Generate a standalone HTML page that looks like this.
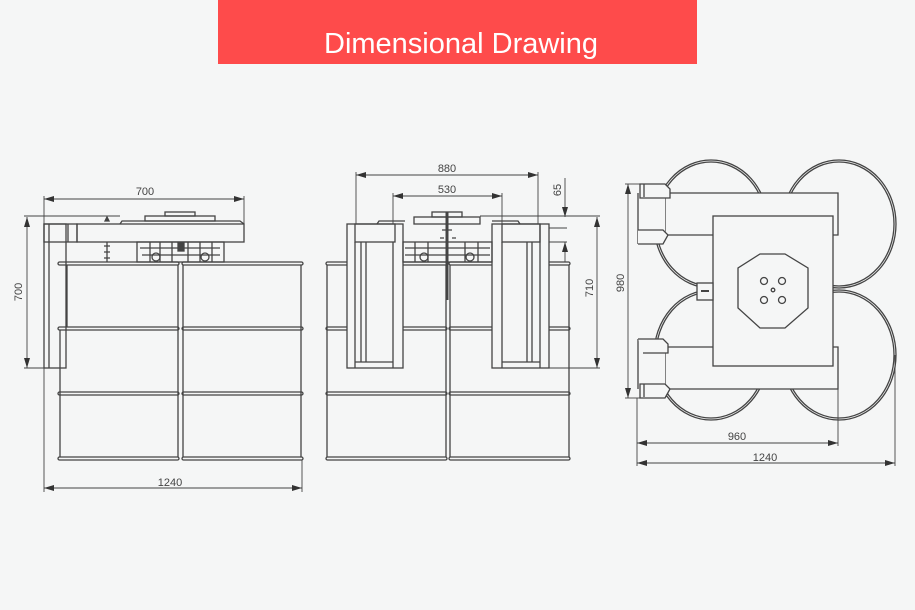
<!DOCTYPE html>
<html><head><meta charset="utf-8"><style>
html,body{margin:0;padding:0;background:#f5f6f6;}
svg{display:block;}
text{font-family:"Liberation Sans",sans-serif;fill:#444;}
</style></head><body>
<svg width="915" height="610" viewBox="0 0 915 610" xmlns="http://www.w3.org/2000/svg">
<defs>
<marker id="a" viewBox="0 0 10 6" refX="10" refY="3" markerWidth="10" markerHeight="6" orient="auto-start-reverse" markerUnits="userSpaceOnUse"><path d="M0,0 L10,3 L0,6z" fill="#333"/></marker>
</defs>
<rect width="915" height="610" fill="#f5f6f6"/>
<rect x="218" y="0" width="479" height="64" fill="#fe4b4b"/>
<text x="461" y="53" font-size="29" text-anchor="middle" style="fill:#fff">Dimensional Drawing</text>

<g fill="none" stroke="#444" stroke-width="1.3">
<!-- LEFT VIEW barrels -->
<g>
<rect x="58" y="262" width="121" height="3" rx="1.5"/><rect x="182" y="262" width="121" height="3" rx="1.5"/>
<rect x="58" y="327" width="121" height="3" rx="1.5"/><rect x="182" y="327" width="121" height="3" rx="1.5"/>
<rect x="58" y="392" width="121" height="3" rx="1.5"/><rect x="182" y="392" width="121" height="3" rx="1.5"/>
<rect x="58" y="457" width="121" height="3" rx="1.5"/><rect x="182" y="457" width="121" height="3" rx="1.5"/>
<line x1="67" y1="265" x2="67" y2="327"/><line x1="60" y1="330" x2="60" y2="457"/>
<line x1="178" y1="265" x2="178" y2="457"/><line x1="183" y1="265" x2="183" y2="457"/>
<line x1="301" y1="265" x2="301" y2="457"/>
</g>
<!-- post -->
<rect x="44" y="224" width="22" height="144"/>
<line x1="49" y1="224" x2="49" y2="368"/>
<rect x="44" y="224" width="33" height="18"/>
<line x1="68" y1="224" x2="68" y2="242"/>
<rect x="77" y="224" width="167" height="18"/>
<path d="M120,224 L122,221 L240,221 L244,224"/>
<rect x="145" y="216" width="70" height="5"/><rect x="165" y="212" width="30" height="4"/>
<path d="M105,221 l2,-4 l2,4z" fill="#444"/>
<!-- mech -->
<rect x="137" y="242" width="87" height="20"/>
<path d="M140,248 h80 M142,255 h78 M150,242 v20 M160,242 v20 M172,242 v20 M188,242 v20 M200,242 v20 M212,242 v20"/>
<circle cx="156" cy="257" r="4"/><circle cx="205" cy="257" r="4"/>
<rect x="178" y="243" width="6" height="8" fill="#444"/>
<path d="M107,242 v20 M104,246 h6 M104,252 h6 M104,258 h6"/>
<!-- dims -->
<line x1="44" y1="199" x2="244" y2="199" marker-start="url(#a)" marker-end="url(#a)" stroke-width="0.9"/>
<line x1="44" y1="196" x2="44" y2="224" stroke-width="0.9"/><line x1="244" y1="196" x2="244" y2="224" stroke-width="0.9"/>
<line x1="27" y1="217" x2="27" y2="368" marker-start="url(#a)" marker-end="url(#a)" stroke-width="0.9"/>
<line x1="24" y1="216" x2="120" y2="216" stroke-width="0.9"/><line x1="24" y1="368" x2="44" y2="368" stroke-width="0.9"/>
<line x1="44" y1="488" x2="302" y2="488" marker-start="url(#a)" marker-end="url(#a)" stroke-width="0.9"/>
<line x1="44" y1="368" x2="44" y2="492" stroke-width="0.9"/><line x1="302" y1="460" x2="302" y2="492" stroke-width="0.9"/>

<!-- MIDDLE VIEW barrels -->
<rect x="326" y="262" width="121" height="3" rx="1.5"/><rect x="449" y="262" width="121" height="3" rx="1.5"/>
<rect x="326" y="327" width="121" height="3" rx="1.5"/><rect x="449" y="327" width="121" height="3" rx="1.5"/>
<rect x="326" y="392" width="121" height="3" rx="1.5"/><rect x="449" y="392" width="121" height="3" rx="1.5"/>
<rect x="326" y="457" width="121" height="3" rx="1.5"/><rect x="449" y="457" width="121" height="3" rx="1.5"/>
<line x1="327" y1="265" x2="327" y2="457"/><line x1="446" y1="265" x2="446" y2="457"/>
<line x1="450" y1="265" x2="450" y2="457"/><line x1="569" y1="265" x2="569" y2="457"/>
<!-- frames -->
<rect x="347" y="224" width="56" height="144" fill="#f5f6f6"/>
<rect x="355" y="224" width="40" height="18"/>
<line x1="355" y1="242" x2="355" y2="368"/><line x1="361" y1="242" x2="361" y2="362"/><line x1="366" y1="242" x2="366" y2="362"/>
<line x1="393" y1="242" x2="393" y2="368"/><line x1="355" y1="362" x2="393" y2="362"/>
<rect x="492" y="224" width="57" height="144" fill="#f5f6f6"/>
<rect x="502" y="224" width="38" height="18"/>
<line x1="502" y1="242" x2="502" y2="368"/><line x1="527" y1="242" x2="527" y2="362"/><line x1="532" y1="242" x2="532" y2="362"/>
<line x1="540" y1="224" x2="540" y2="368"/><line x1="502" y1="362" x2="540" y2="362"/>
<path d="M377,224 l2,-3 h26 M492,221 h26 l2,3"/>
<rect x="414" y="217" width="66" height="7"/><rect x="432" y="212" width="30" height="5"/>
<rect x="403" y="242" width="89" height="20"/>
<path d="M405,248 h85 M405,255 h85 M415,242 v20 M428,242 v20 M465,242 v20 M478,242 v20"/>
<circle cx="424" cy="257" r="4"/><circle cx="470" cy="257" r="4"/>
<path d="M447,212 V300" stroke-width="3"/>
<path d="M442,230 h10 M440,238 h4 M452,238 h4"/>
<!-- dims -->
<line x1="356" y1="175" x2="538" y2="175" marker-start="url(#a)" marker-end="url(#a)" stroke-width="0.9"/>
<line x1="356" y1="172" x2="356" y2="224" stroke-width="0.9"/><line x1="538" y1="172" x2="538" y2="224" stroke-width="0.9"/>
<line x1="393" y1="196" x2="502" y2="196" marker-start="url(#a)" marker-end="url(#a)" stroke-width="0.9"/>
<line x1="393" y1="193" x2="393" y2="224" stroke-width="0.9"/><line x1="502" y1="193" x2="502" y2="224" stroke-width="0.9"/>
<line x1="565" y1="178" x2="565" y2="217" marker-end="url(#a)" stroke-width="0.9"/>
<line x1="565" y1="262" x2="565" y2="242" marker-end="url(#a)" stroke-width="0.9"/>
<line x1="480" y1="216" x2="600" y2="216" stroke-width="0.9"/><line x1="549" y1="228" x2="567" y2="228" stroke-width="0.9"/><line x1="549" y1="242" x2="567" y2="242" stroke-width="0.9"/>
<line x1="597" y1="217" x2="597" y2="368" marker-start="url(#a)" marker-end="url(#a)" stroke-width="0.9"/>
<line x1="549" y1="368" x2="600" y2="368" stroke-width="0.9"/>

<!-- RIGHT VIEW -->
<ellipse cx="711" cy="224" rx="57" ry="64"/><ellipse cx="711" cy="224" rx="55" ry="62"/>
<ellipse cx="839" cy="224" rx="57" ry="64"/><ellipse cx="839" cy="224" rx="55" ry="62"/>
<ellipse cx="711" cy="355" rx="57" ry="65"/><ellipse cx="711" cy="355" rx="55" ry="63"/>
<ellipse cx="839" cy="355" rx="57" ry="65"/><ellipse cx="839" cy="355" rx="55" ry="63"/>
<path d="M665,193 H838 V235 H665 Z" fill="#f5f6f6"/>
<path d="M665,347 H838 V389 H665 Z" fill="#f5f6f6"/>
<rect x="638" y="193" width="27" height="42" fill="#f5f6f6" stroke="none"/>
<rect x="638" y="347" width="27" height="42" fill="#f5f6f6" stroke="none"/>
<path d="M638,193 V244 M638,339 V389"/>
<path d="M640,184 h25 l5,5 v9 h-30z" fill="#f5f6f6"/><path d="M644,184 v13"/>
<path d="M638,230 h25 l5,5 l-5,9 h-25" fill="#f5f6f6"/>
<path d="M638,339 h25 l5,5 v9 h-25" fill="#f5f6f6"/>
<path d="M640,384 h25 l5,5 l-5,9 h-25z" fill="#f5f6f6"/><path d="M644,384 v13"/>
<rect x="713" y="216" width="120" height="150" fill="#f5f6f6"/>
<path d="M760,254 h25 l23,14 v40 l-23,20 h-25 l-22,-20 v-40z"/>
<circle cx="764" cy="281" r="3.5"/><circle cx="782" cy="281" r="3.5"/>
<circle cx="764" cy="300" r="3.5"/><circle cx="782" cy="300" r="3.5"/>
<circle cx="773" cy="290" r="1.8"/>
<rect x="697" y="283" width="16" height="17" fill="#f5f6f6"/>
<path d="M701,291 h8" stroke-width="2"/>
<!-- dims -->
<line x1="628" y1="184" x2="628" y2="398" marker-start="url(#a)" marker-end="url(#a)" stroke-width="0.9"/>
<line x1="625" y1="184" x2="640" y2="184" stroke-width="0.9"/><line x1="625" y1="398" x2="640" y2="398" stroke-width="0.9"/>
<line x1="637" y1="443" x2="838" y2="443" marker-start="url(#a)" marker-end="url(#a)" stroke-width="0.9"/>
<line x1="637" y1="463" x2="895" y2="463" marker-start="url(#a)" marker-end="url(#a)" stroke-width="0.9"/>
<line x1="637" y1="398" x2="637" y2="466" stroke-width="0.9"/><line x1="838" y1="389" x2="838" y2="446" stroke-width="0.9"/>
<line x1="895" y1="355" x2="895" y2="466" stroke-width="0.9"/>
</g>

<g font-size="11">
<text x="145" y="195" text-anchor="middle">700</text>
<text x="170" y="486" text-anchor="middle">1240</text>
<text transform="translate(22,292) rotate(-90)" text-anchor="middle">700</text>
<text x="447" y="172" text-anchor="middle">880</text>
<text x="447" y="193" text-anchor="middle">530</text>
<text transform="translate(561,190) rotate(-90)" text-anchor="middle">65</text>
<text transform="translate(593,288) rotate(-90)" text-anchor="middle">710</text>
<text transform="translate(624,283) rotate(-90)" text-anchor="middle">980</text>
<text x="737" y="440" text-anchor="middle">960</text>
<text x="765" y="461" text-anchor="middle">1240</text>
</g>
</svg>
</body></html>
